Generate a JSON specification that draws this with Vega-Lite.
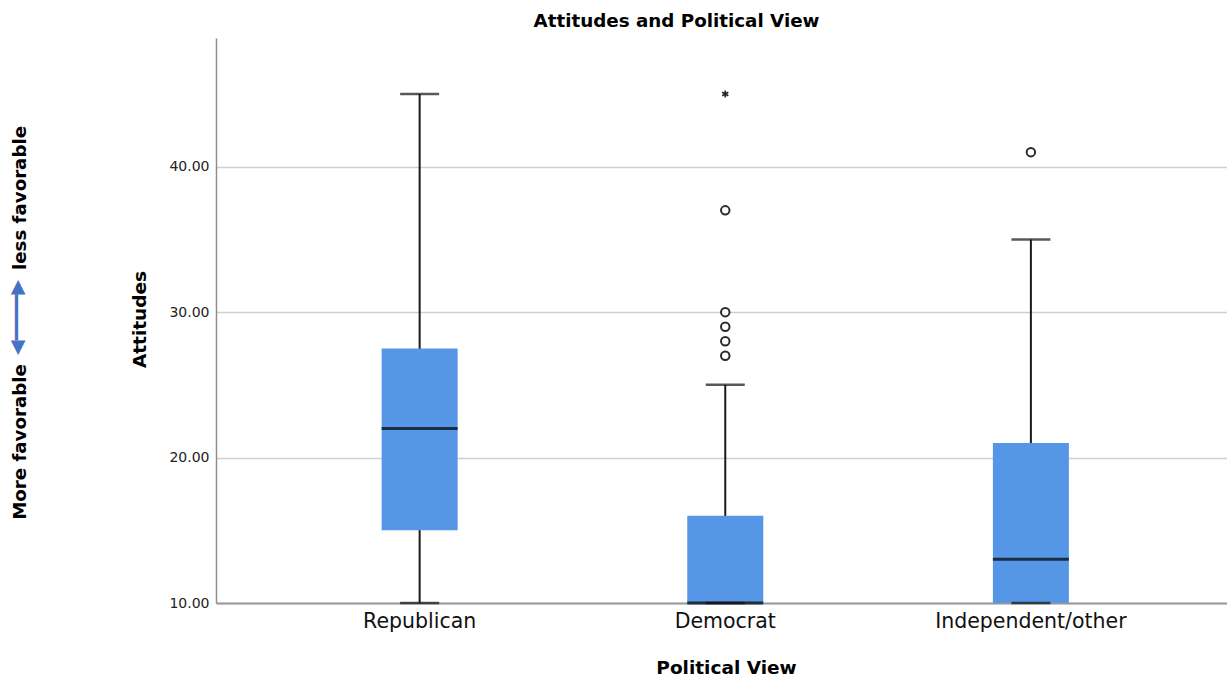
{
  "$schema": "https://vega.github.io/schema/vega-lite/v6.json",
  "width": 1011,
  "height": 565,
  "autosize": {"type": "none"},
  "padding": {"left": 216, "top": 38, "right": 0, "bottom": 82},
  "background": "white",
  "config": {"view": {"stroke": null}},
  "title": {"text": "Attitudes and Political View", "font": "DejaVu Sans", "fontSize": 18.3, "fontWeight": "bold", "color": "#000", "anchor": "middle", "frame": "group", "dx": -45, "dy": 20, "baseline": "alphabetic", "offset": 13},
  "datasets": {
    "stats": [
      {"view": "Republican", "min": 10, "q1": 15, "median": 22, "q3": 27.5, "max": 45},
      {"view": "Democrat", "min": 10, "q1": 10, "median": 10, "q3": 16, "max": 25},
      {"view": "Independent/other", "min": 10, "q1": 10, "median": 13, "q3": 21, "max": 35}
    ],
    "outliers": [
      {"view": "Democrat", "value": 27},
      {"view": "Democrat", "value": 28},
      {"view": "Democrat", "value": 29},
      {"view": "Democrat", "value": 30},
      {"view": "Democrat", "value": 37},
      {"view": "Independent/other", "value": 41}
    ],
    "extremes": [
      {"view": "Democrat", "value": 45}
    ]
  },
  "resolve": {"axis": {"y": "independent"}},
  "layer": [
    {
      "data": {"name": "stats"},
      "mark": {"type": "rule", "color": "#1a1a1a", "strokeWidth": 2},
      "encoding": {
        "x": {
          "field": "view", "type": "nominal",
          "sort": ["Republican", "Democrat", "Independent/other"],
          "scale": {"type": "band", "paddingInner": 0, "paddingOuter": 0.154, "align": 0.54},
          "axis": {
            "title": "Political View", "orient": "bottom",
            "domainColor": "#999999", "domainWidth": 2, "ticks": false, "grid": false,
            "labelPadding": 8, "labelFont": "DejaVu Sans", "labelFontSize": 20.5, "labelColor": "#111", "labelAngle": 0, "labelLimit": 0,
            "titleFont": "DejaVu Sans", "titleFontSize": 18.5, "titleFontWeight": "bold", "titleColor": "#000",
            "titleX": 510, "titleY": 64, "titleBaseline": "middle", "titleAlign": "center"
          }
        },
        "y": {
          "field": "min", "type": "quantitative",
          "scale": {"domain": [10, 48.85], "nice": false, "zero": false},
          "axis": {
            "orient": "left", "values": [10, 20, 30, 40], "format": ".2f", "title": "Attitudes",
            "grid": true, "gridColor": "#cfcfcf", "gridWidth": 1.5,
            "domain": true, "domainColor": "#8f8f8f", "domainWidth": 1.5, "ticks": false,
            "labelPadding": 7, "labelFont": "DejaVu Sans", "labelFontSize": 14, "labelColor": "#222",
            "titleFont": "DejaVu Sans", "titleFontSize": 18.5, "titleFontWeight": "bold", "titleColor": "#000",
            "titleX": -77, "titleY": 281, "titleAngle": -90, "titleAlign": "center", "titleBaseline": "middle"
          }
        },
        "y2": {"field": "max"}
      }
    },
    {
      "data": {"name": "stats"},
      "mark": {"type": "bar", "size": 76, "color": "#5596E6"},
      "encoding": {
        "x": {"field": "view", "type": "nominal", "sort": ["Republican", "Democrat", "Independent/other"]},
        "y": {
          "field": "q1", "type": "quantitative",
          "axis": {
            "orient": "left", "title": "less favorable", "domain": false, "ticks": false, "labels": false, "grid": false,
            "titleFont": "DejaVu Sans", "titleFontSize": 18.2, "titleFontWeight": "bold", "titleColor": "#000",
            "titleX": -196, "titleY": 159.5, "titleAngle": -90, "titleAlign": "center", "titleBaseline": "middle"
          }
        },
        "y2": {"field": "q3"}
      }
    },
    {
      "data": {"name": "stats"},
      "mark": {"type": "tick", "size": 76, "thickness": 3, "color": "#000"},
      "encoding": {
        "x": {"field": "view", "type": "nominal", "sort": ["Republican", "Democrat", "Independent/other"]},
        "y": {
          "field": "median", "type": "quantitative",
          "axis": {
            "orient": "left", "title": "More favorable", "domain": false, "ticks": false, "labels": false, "grid": false,
            "titleFont": "DejaVu Sans", "titleFontSize": 18.2, "titleFontWeight": "bold", "titleColor": "#000",
            "titleX": -196, "titleY": 403.5, "titleAngle": -90, "titleAlign": "center", "titleBaseline": "middle"
          }
        }
      }
    },
    {
      "data": {"name": "stats"},
      "mark": {"type": "tick", "size": 39, "thickness": 2.5, "color": "#111"},
      "encoding": {
        "x": {"field": "view", "type": "nominal", "sort": ["Republican", "Democrat", "Independent/other"]},
        "y": {
          "field": "min", "type": "quantitative",
          "axis": {
            "orient": "left", "title": "◀━━━━▶", "domain": false, "ticks": false, "labels": false, "grid": false,
            "titleFont": "DejaVu Sans", "titleFontSize": 19, "titleFontWeight": "normal", "titleColor": "#4472C4",
            "titleX": -199.5, "titleY": 279, "titleAngle": -90, "titleAlign": "center", "titleBaseline": "middle"
          }
        }
      }
    },
    {
      "data": {"name": "stats"},
      "mark": {"type": "tick", "size": 39, "thickness": 2.5, "color": "#111"},
      "encoding": {
        "x": {"field": "view", "type": "nominal", "sort": ["Republican", "Democrat", "Independent/other"]},
        "y": {"field": "max", "type": "quantitative", "axis": null}
      }
    },
    {
      "data": {"name": "outliers"},
      "mark": {"type": "point", "shape": "circle", "filled": true, "fill": "white", "stroke": "#2a2a2a", "strokeWidth": 2, "size": 72, "opacity": 1},
      "encoding": {
        "x": {"field": "view", "type": "nominal", "sort": ["Republican", "Democrat", "Independent/other"]},
        "y": {"field": "value", "type": "quantitative", "axis": null}
      }
    },
    {
      "data": {"name": "extremes"},
      "mark": {"type": "point", "shape": "M0,-1L0,1M-0.87,-0.5L0.87,0.5M-0.87,0.5L0.87,-0.5", "filled": false, "stroke": "#222", "strokeWidth": 1.6, "size": 50, "opacity": 1},
      "encoding": {
        "x": {"field": "view", "type": "nominal", "sort": ["Republican", "Democrat", "Independent/other"]},
        "y": {"field": "value", "type": "quantitative", "axis": null}
      }
    }
  ]
}
